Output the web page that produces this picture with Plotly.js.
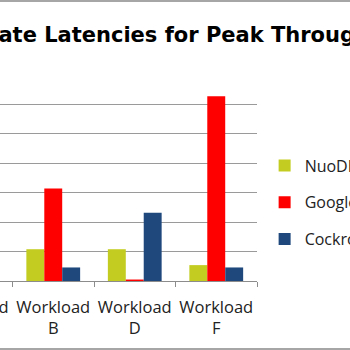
<!DOCTYPE html>
<html>
<head>
<meta charset="utf-8">
<script src="https://cdn.plot.ly/plotly-3.0.1.min.js"></script>
<style>
  html, body { margin: 0; padding: 0; width: 350px; height: 350px; overflow: hidden; background: #fff; }
  #frame { position: absolute; left: -121px; top: 0; width: 600px; height: 350px;
           border: 2px solid #a6a6a6; box-sizing: border-box; background: #fff; }
  #chart { width: 596px; height: 346px; }
</style>
</head>
<body>
<div id="frame"><div id="chart"></div></div>
<script>
const categories = ["Workload<br>A", "Workload<br>B", "Workload<br>D", "Workload<br>F"];
const nuodb     = [5.0, 5.4, 5.4, 2.7];
const spanner   = [14.0, 15.7, 0.25, 31.4];
const cockroach = [2.5, 2.3, 11.6, 2.3];
const seriesNames = ["NuoDB", "Google Spanner", "CockroachDB"];
const seriesColors = ["#c3cd21", "#ff0000", "#1f497d"];
const yTicks = [0, 5, 10, 15, 20, 25, 30, 35];

const values = [nuodb, spanner, cockroach];
const traces = values.map((v, i) => ({
  type: "bar",
  x: categories,
  y: v,
  name: seriesNames[i],
  legendgroup: "g" + i,
  marker: { color: seriesColors[i], line: { width: 0 } },
  hoverinfo: "skip"
}));

const layout = {
  width: 596, height: 346,
  margin: { l: 50, r: 219.7, t: 73, b: 66.5 },
  paper_bgcolor: "#ffffff", plot_bgcolor: "#ffffff",
  barmode: "group", bargap: 0.34, bargroupgap: 0,
  title: {
    text: "Update Latencies for Peak Throughput",
    font: { family: "DejaVu Sans", size: 21, color: "#000", weight: "bold" },
    x: 0.1180, xanchor: "left", xref: "container",
    y: 0.905, yanchor: "middle", yref: "container"
  },
  xaxis: {
    type: "category",
    tickson: "boundaries",
    tickangle: 0,
    ticks: "outside", ticklen: 5, tickcolor: "#8c8c8c", tickwidth: 1,
    ticklabelstandoff: 11,
    showline: true, linecolor: "#8c8c8c", linewidth: 1,
    showgrid: false,
    tickfont: { family: "Open Sans", size: 16.5, color: "#222" },
    fixedrange: true
  },
  yaxis: {
    range: [0, 35],
    tickvals: yTicks,
    showgrid: true, gridcolor: "#9a9a9a", gridwidth: 1,
    zeroline: false, showline: false,
    tickfont: { family: "Open Sans", size: 14, color: "#222" },
    fixedrange: true
  },
  showlegend: true,
  legend: {
    x: 1.0234, xanchor: "left", y: 0.643, yanchor: "top",
    traceorder: "grouped", tracegroupgap: 13,
    font: { family: "Open Sans", size: 16, color: "#222" },
    bgcolor: "rgba(0,0,0,0)", borderwidth: 0
  }
};

Plotly.newPlot("chart", traces, layout, { displayModeBar: false, staticPlot: true });
</script>
</body>
</html>
